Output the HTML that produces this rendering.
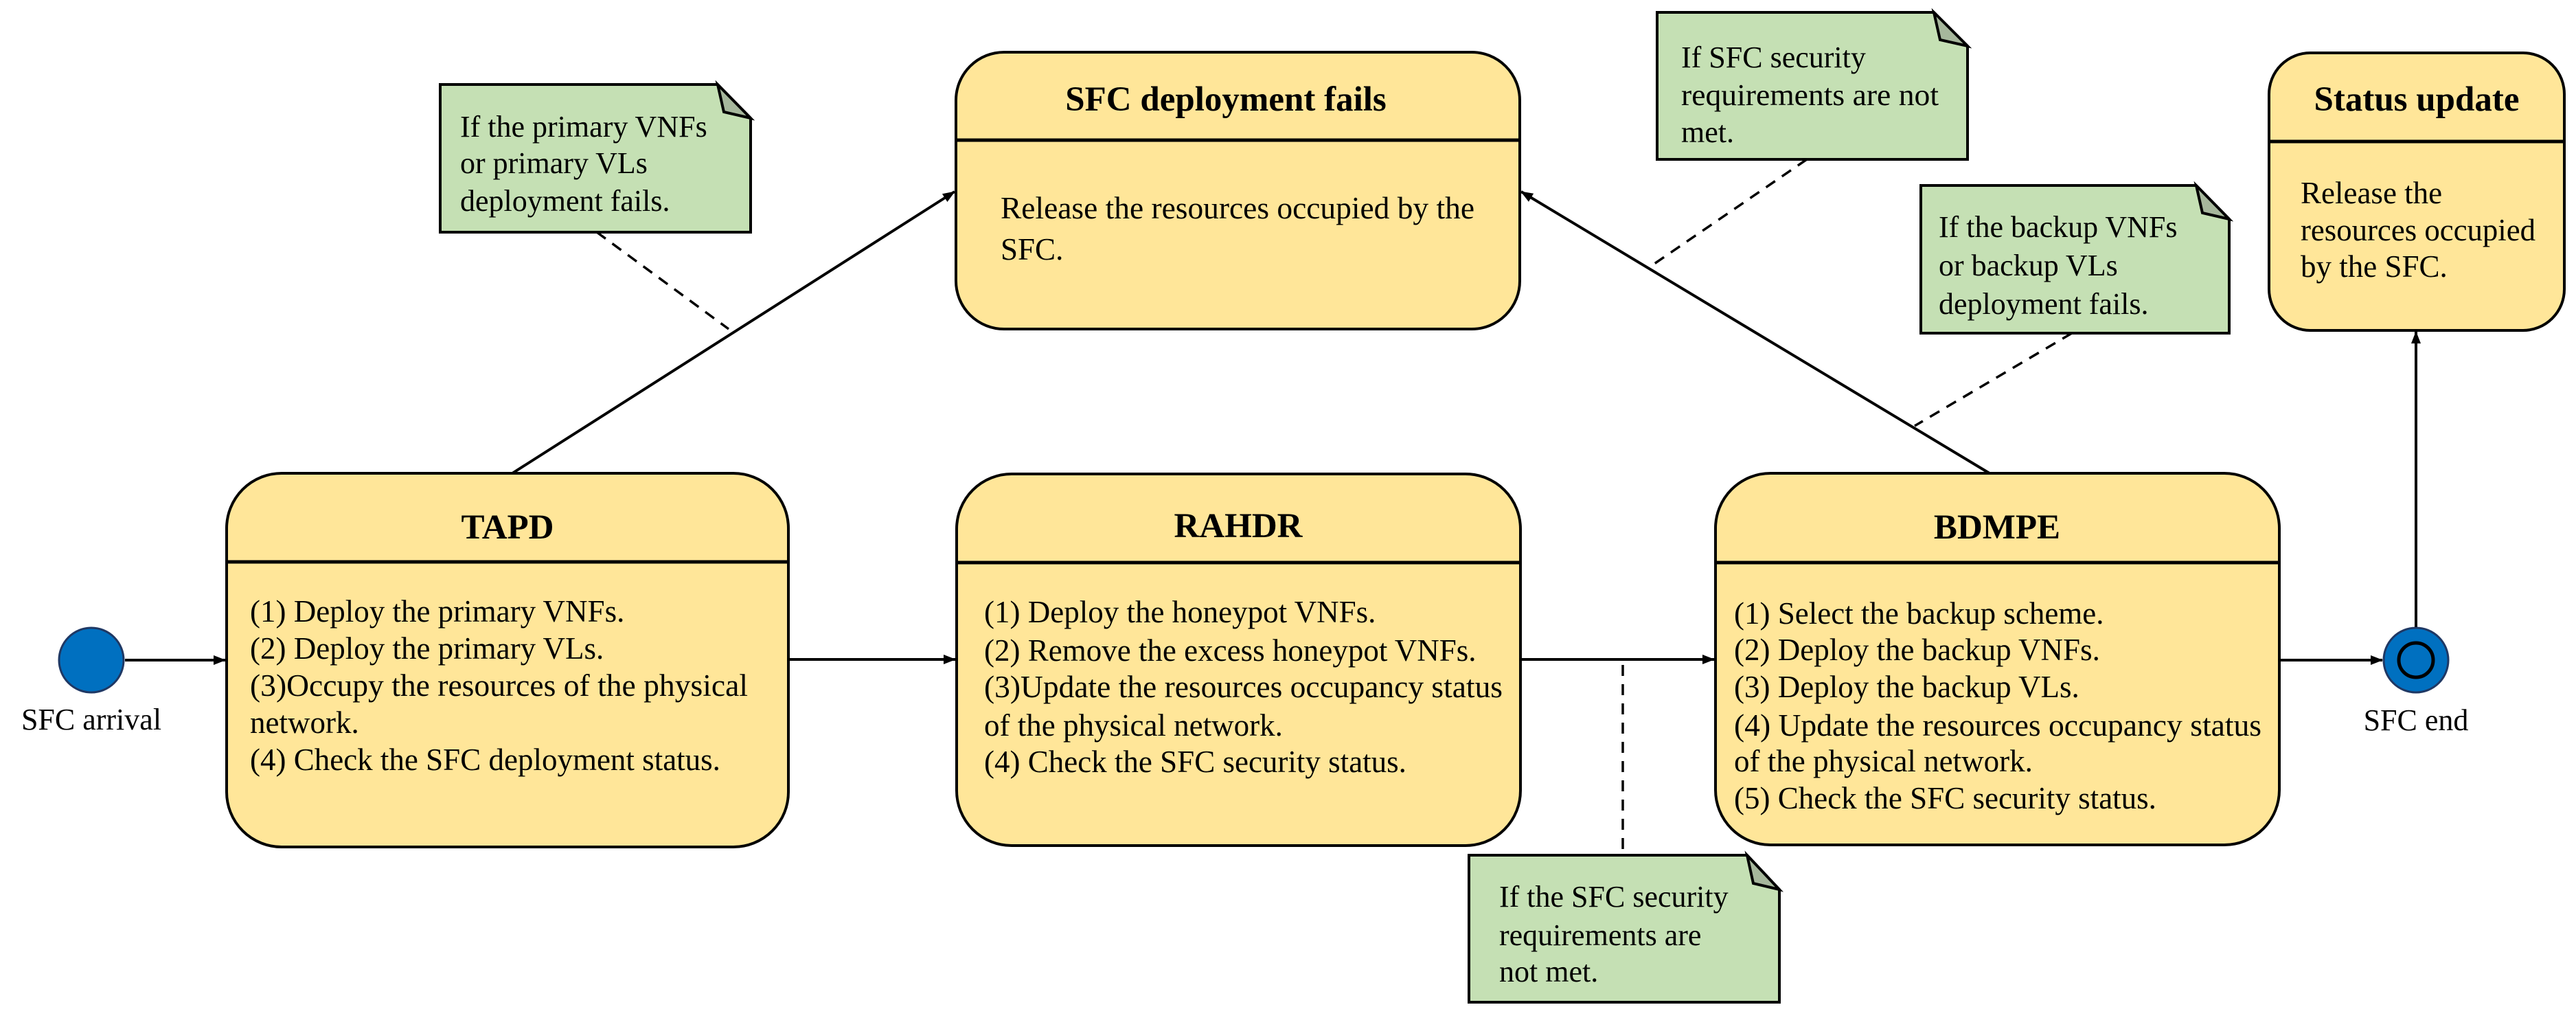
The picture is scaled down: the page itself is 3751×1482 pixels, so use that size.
<!DOCTYPE html>
<html><head><meta charset="utf-8"><style>html,body{margin:0;padding:0;background:#fff}svg{display:block}</style></head>
<body>
<svg width="3751" height="1482" viewBox="0 0 3751 1482" xmlns="http://www.w3.org/2000/svg" font-family="'Liberation Serif', serif">
<defs>
<marker id="ar2" markerWidth="18" markerHeight="16" refX="17" refY="8" orient="auto" markerUnits="userSpaceOnUse" viewBox="0 0 18 16">
<path d="M0,1 L18,8 L0,15 Z" fill="#000"/></marker>
</defs>
<g stroke="#000" stroke-width="4" fill="none">
<line x1="182" y1="961" x2="328" y2="961" marker-end="url(#ar2)"/>
<line x1="1148" y1="960" x2="1391" y2="960" marker-end="url(#ar2)"/>
<line x1="2214" y1="960" x2="2496" y2="960" marker-end="url(#ar2)"/>
<line x1="3319" y1="961" x2="3469" y2="961" marker-end="url(#ar2)"/>
<line x1="746" y1="689" x2="1390" y2="279" marker-end="url(#ar2)"/>
<line x1="2897" y1="689" x2="2215" y2="279" marker-end="url(#ar2)"/>
<line x1="3518" y1="914" x2="3518" y2="483" marker-end="url(#ar2)"/>
<g stroke-dasharray="16,12" stroke-width="3.5">
<line x1="869" y1="338" x2="1061" y2="479"/>
<line x1="2631" y1="232" x2="2406" y2="386"/>
<line x1="3017" y1="485" x2="2788" y2="620"/>
<line x1="2363" y1="968" x2="2363" y2="1245"/>
</g>
</g>
<g stroke="#000" stroke-width="4" fill="#FFE699">
<rect x="330" y="689" width="818" height="544" rx="80" ry="80"/>
<rect x="1393" y="690" width="821" height="541" rx="80" ry="80"/>
<rect x="2498" y="689" width="821" height="541" rx="80" ry="80"/>
<rect x="1392" y="76" width="821" height="403" rx="70" ry="70"/>
<rect x="3304" y="77" width="430" height="404" rx="60" ry="60"/>
</g>
<g stroke="#000" stroke-width="5">
<line x1="330" y1="818" x2="1148" y2="818"/>
<line x1="1393" y1="819" x2="2214" y2="819"/>
<line x1="2498" y1="819" x2="3319" y2="819"/>
<line x1="1392" y1="204" x2="2213" y2="204"/>
<line x1="3304" y1="206" x2="3734" y2="206"/>
</g>
<g stroke="#000" stroke-width="4">
<path d="M641,123 L1045,123 L1093,172 L1093,338 L641,338 Z" fill="#C5E0B4"/>
<path d="M1045,123 L1054,163 L1093,172 Z" fill="#A6B79C"/>
<path d="M2413,18 L2816,18 L2865,67 L2865,232 L2413,232 Z" fill="#C5E0B4"/>
<path d="M2816,18 L2825,58 L2865,67 Z" fill="#A6B79C"/>
<path d="M2797,270 L3198,270 L3246,319 L3246,485 L2797,485 Z" fill="#C5E0B4"/>
<path d="M3198,270 L3207,310 L3246,319 Z" fill="#A6B79C"/>
<path d="M2139,1245 L2544,1245 L2591,1295 L2591,1459 L2139,1459 Z" fill="#C5E0B4"/>
<path d="M2544,1245 L2553,1286 L2591,1295 Z" fill="#A6B79C"/>
</g>
<circle cx="133" cy="961" r="47" fill="#0070C0" stroke="#1F3864" stroke-width="3"/>
<circle cx="3518" cy="961" r="47" fill="#0070C0" stroke="#1F3864" stroke-width="3"/>
<circle cx="3518" cy="961" r="25" fill="none" stroke="#000" stroke-width="5"/>
<g fill="#000" font-size="45">
<text x="133" y="1062" text-anchor="middle" font-size="44">SFC arrival</text>
<text x="3518" y="1063" text-anchor="middle" font-size="44">SFC end</text>
<g font-weight="bold" font-size="51" text-anchor="middle">
<text x="739" y="784">TAPD</text>
<text x="1803" y="782">RAHDR</text>
<text x="2908" y="784">BDMPE</text>
<text x="1785" y="161">SFC deployment fails</text>
<text x="3519" y="161">Status update</text>
</g>
<text x="364" y="905">(1) Deploy the primary VNFs.</text>
<text x="364" y="959">(2) Deploy the primary VLs.</text>
<text x="364" y="1013" textLength="725" lengthAdjust="spacingAndGlyphs">(3)Occupy the resources of the physical</text>
<text x="364" y="1067">network.</text>
<text x="364" y="1121">(4) Check the SFC deployment status.</text>

<text x="1433" y="906">(1) Deploy the honeypot VNFs.</text>
<text x="1433" y="962">(2) Remove the excess honeypot VNFs.</text>
<text x="1433" y="1015" textLength="755" lengthAdjust="spacingAndGlyphs">(3)Update the resources occupancy status</text>
<text x="1433" y="1071">of the physical network.</text>
<text x="1433" y="1124">(4) Check the SFC security status.</text>

<text x="2525" y="908">(1) Select the backup scheme.</text>
<text x="2525" y="961">(2) Deploy the backup VNFs.</text>
<text x="2525" y="1015">(3) Deploy the backup VLs.</text>
<text x="2525" y="1071" textLength="768" lengthAdjust="spacingAndGlyphs">(4) Update the resources occupancy status</text>
<text x="2525" y="1123">of the physical network.</text>
<text x="2525" y="1177">(5) Check the SFC security status.</text>

<text x="1457" y="318" textLength="690" lengthAdjust="spacingAndGlyphs">Release the resources occupied by the</text>
<text x="1457" y="378">SFC.</text>

<text x="3350" y="296">Release the</text>
<text x="3350" y="350" textLength="342" lengthAdjust="spacingAndGlyphs">resources occupied</text>
<text x="3350" y="403">by the SFC.</text>

<g font-size="44">
<text x="670" y="199">If the primary VNFs</text>
<text x="670" y="252">or primary VLs</text>
<text x="670" y="307">deployment fails.</text>

<text x="2448" y="98">If SFC security</text>
<text x="2448" y="153" textLength="375" lengthAdjust="spacingAndGlyphs">requirements are not</text>
<text x="2448" y="207">met.</text>

<text x="2823" y="345">If the backup VNFs</text>
<text x="2823" y="401">or backup VLs</text>
<text x="2823" y="457">deployment fails.</text>

<text x="2183" y="1320">If the SFC security</text>
<text x="2183" y="1376">requirements are</text>
<text x="2183" y="1429">not met.</text>
</g>
</g>
</svg>
</body></html>
